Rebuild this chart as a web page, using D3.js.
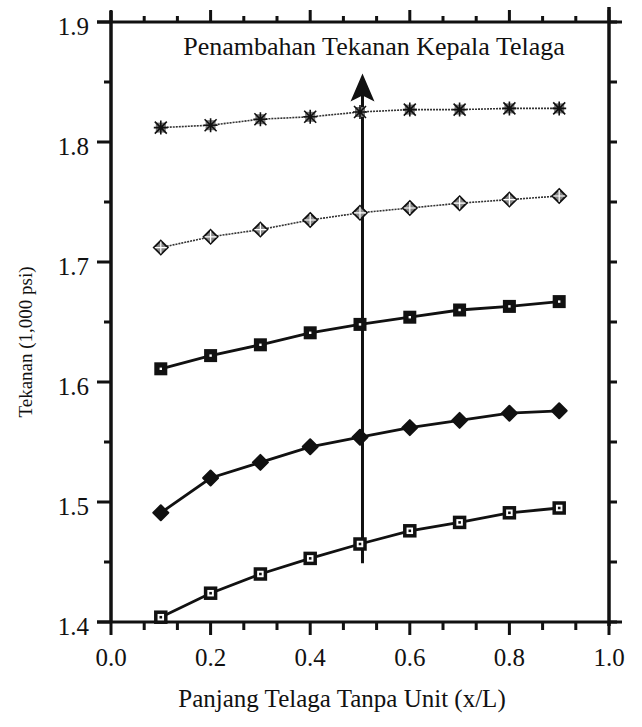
<!DOCTYPE html>
<html>
<head>
    <meta charset="utf-8">
    <script src="https://cdn.jsdelivr.net/npm/d3@7"></script>
</head>
<body style="margin:0">
    <div id="chart"></div>
    <script>
        // x positions (x/L) shared by all curves
        var xVals = [0.1, 0.2, 0.3, 0.4, 0.5, 0.6, 0.7, 0.8, 0.9];

        // pressure (1,000 psi), bottom curve first
        var curve1 = [1.404, 1.424, 1.440, 1.453, 1.465, 1.476, 1.483, 1.491, 1.495];
        var curve2 = [1.491, 1.520, 1.533, 1.546, 1.554, 1.562, 1.568, 1.574, 1.576];
        var curve3 = [1.611, 1.622, 1.631, 1.641, 1.648, 1.654, 1.660, 1.663, 1.667];
        var curve4 = [1.712, 1.721, 1.727, 1.735, 1.741, 1.745, 1.749, 1.752, 1.755];
        var curve5 = [1.812, 1.814, 1.819, 1.821, 1.825, 1.827, 1.827, 1.828, 1.828];

        var xTickLabels = ["0.0", "0.2", "0.4", "0.6", "0.8", "1.0"];
        var yTickLabels = ["1.4", "1.5", "1.6", "1.7", "1.8", "1.9"];

        var titleText = "Penambahan Tekanan Kepala Telaga";
        var xTitle = "Panjang Telaga Tanpa Unit (x/L)";
        var yTitle = "Tekanan (1,000 psi)";

        var pLeft = 111, pRight = 609, pTop = 22, pBottom = 622;
        var serif = "'Liberation Serif', 'Times New Roman', serif";

        var xs = d3.scaleLinear().domain([0, 1]).range([pLeft, pRight]);
        var ys = d3.scaleLinear().domain([1.4, 1.9]).range([pBottom, pTop]);

        var svg = d3.select("#chart").append("svg")
            .attr("width", 642).attr("height", 727).style("display", "block");

        var xMajor = xTickLabels.map(Number);
        var xMinor = d3.range(0, 16).map(function(i) { return i / 15; });
        var yMajor = yTickLabels.map(Number);
        var yMinor = d3.range(0, 11).map(function(i) { return 1.4 + i * 0.05; });

        // frame
        var frame = svg.append("g").attr("stroke", "#111");
        frame.append("line").attr("x1", pLeft).attr("x2", pLeft).attr("y1", pTop - 11).attr("y2", pBottom + 1).attr("stroke-width", 3.5);
        frame.append("line").attr("x1", pRight).attr("x2", pRight).attr("y1", pTop - 15).attr("y2", pBottom + 4).attr("stroke-width", 3.5);
        frame.append("line").attr("x1", pLeft - 14).attr("x2", pRight + 13).attr("y1", pBottom).attr("y2", pBottom).attr("stroke-width", 3);
        frame.append("line").attr("x1", pLeft - 14).attr("x2", pRight + 13).attr("y1", pTop).attr("y2", pTop).attr("stroke-width", 3);

        // tick marks: one path built from the scales
        var tp = d3.path();
        xMinor.forEach(function(v) {
            tp.moveTo(xs(v), pBottom); tp.lineTo(xs(v), pBottom + 8);
            tp.moveTo(xs(v), pTop); tp.lineTo(xs(v), pTop - 6);
        });
        xMajor.forEach(function(v) {
            tp.moveTo(xs(v), pBottom); tp.lineTo(xs(v), pBottom + 13);
            tp.moveTo(xs(v), pTop); tp.lineTo(xs(v), pTop - 12);
        });
        yMinor.forEach(function(v) {
            tp.moveTo(pLeft, ys(v)); tp.lineTo(pLeft - 7, ys(v));
            tp.moveTo(pRight, ys(v)); tp.lineTo(pRight + 8, ys(v));
        });
        yMajor.forEach(function(v) {
            tp.moveTo(pLeft, ys(v)); tp.lineTo(pLeft - 14, ys(v));
        });
        svg.append("path").attr("d", tp.toString()).attr("fill", "none")
            .attr("stroke", "#111").attr("stroke-width", 3);

        // tick labels
        xMajor.forEach(function(v, i) {
            svg.append("text").attr("x", xs(v)).attr("y", pBottom + 44).attr("text-anchor", "middle")
                .style("font-family", serif).style("font-size", "25px").attr("fill", "#111").text(xTickLabels[i]);
        });
        yMajor.forEach(function(v, i) {
            svg.append("text").attr("x", pLeft - 22).attr("y", ys(v) + 13).attr("text-anchor", "end")
                .style("font-family", serif).style("font-size", "25px").attr("fill", "#111").text(yTickLabels[i]);
        });

        // axis titles
        svg.append("text").attr("x", 342).attr("y", 707).attr("text-anchor", "middle")
            .style("font-family", serif).style("font-size", "25px").attr("fill", "#111").text(xTitle);
        svg.append("text").attr("transform", "translate(32,342) rotate(-90)").attr("text-anchor", "middle")
            .style("font-family", serif).style("font-size", "19px").attr("fill", "#111").text(yTitle);

        // arrow
        var ax = xs(0.505);
        var tipY = ys(1.857);
        svg.append("line").attr("x1", ax).attr("x2", ax).attr("y1", ys(1.449)).attr("y2", tipY + 20)
            .attr("stroke", "#111").attr("stroke-width", 3);
        svg.append("path")
            .attr("d", "M" + ax + "," + tipY + "L" + (ax - 12) + "," + (tipY + 28) +
                "L" + ax + "," + (tipY + 22) + "L" + (ax + 12) + "," + (tipY + 28) + "Z")
            .attr("fill", "#111");

        svg.append("text").attr("x", 374).attr("y", 55).attr("text-anchor", "middle")
            .style("font-family", serif).style("font-size", "26px").attr("fill", "#111").text(titleText);

        var lineGen = d3.line()
            .x(function(d, i) { return xs(xVals[i]); })
            .y(function(d) { return ys(d); });

        function pts(arr) {
            return arr.map(function(v, i) { return { x: xs(xVals[i]), y: ys(v) }; });
        }

        // light dotted curves
        [curve5, curve4].forEach(function(c) {
            svg.append("path").datum(c).attr("d", lineGen).attr("fill", "none")
                .attr("stroke", "#333").attr("stroke-width", 1.6).attr("stroke-dasharray", "2,1");
        });
        // heavy curves
        [curve3, curve2, curve1].forEach(function(c) {
            svg.append("path").datum(c).attr("d", lineGen).attr("fill", "none")
                .attr("stroke", "#111").attr("stroke-width", 2.8);
        });

        // top curve: hatched blobs
        var g5 = svg.append("g");
        pts(curve5).forEach(function(p) {
            g5.append("rect").attr("x", p.x - 5).attr("y", p.y - 5).attr("width", 10).attr("height", 10)
                .attr("fill", "#777");
            g5.append("path").attr("d", "M" + (p.x - 6) + "," + (p.y - 6) + "L" + (p.x + 6) + "," + (p.y + 6) +
                "M" + (p.x + 6) + "," + (p.y - 6) + "L" + (p.x - 6) + "," + (p.y + 6) +
                "M" + (p.x - 7) + "," + p.y + "L" + (p.x + 7) + "," + p.y +
                "M" + p.x + "," + (p.y - 7) + "L" + p.x + "," + (p.y + 7))
                .attr("stroke", "#111").attr("stroke-width", 1.6);
        });

        // second curve: open hatched diamonds
        var g4 = svg.append("g");
        pts(curve4).forEach(function(p) {
            g4.append("path").attr("d", "M" + p.x + "," + (p.y - 7) + "L" + (p.x + 7) + "," + p.y +
                "L" + p.x + "," + (p.y + 7) + "L" + (p.x - 7) + "," + p.y + "Z")
                .attr("fill", "#888").attr("stroke", "#111").attr("stroke-width", 1.8);
            g4.append("path").attr("d", "M" + (p.x - 6) + "," + p.y + "L" + (p.x + 6) + "," + p.y +
                "M" + p.x + "," + (p.y - 6) + "L" + p.x + "," + (p.y + 6))
                .attr("stroke", "#fff").attr("stroke-width", 1.2);
        });

        // third curve: solid squares with white dot
        var g3 = svg.append("g");
        pts(curve3).forEach(function(p) {
            g3.append("rect").attr("x", p.x - 6.5).attr("y", p.y - 6.5).attr("width", 13).attr("height", 13).attr("fill", "#111");
            g3.append("rect").attr("x", p.x - 1.2).attr("y", p.y - 1.2).attr("width", 2.4).attr("height", 2.4).attr("fill", "#fff");
        });

        // fourth curve: filled diamonds
        var g2 = svg.append("g");
        pts(curve2).forEach(function(p) {
            g2.append("path").attr("d", "M" + p.x + "," + (p.y - 7.5) + "L" + (p.x + 7.5) + "," + p.y +
                "L" + p.x + "," + (p.y + 7.5) + "L" + (p.x - 7.5) + "," + p.y + "Z")
                .attr("fill", "#111").attr("stroke", "#111").attr("stroke-width", 2).attr("stroke-linejoin", "round");
        });

        // bottom curve: open squares with heavy border
        var g1 = svg.append("g");
        pts(curve1).forEach(function(p) {
            g1.append("rect").attr("x", p.x - 5).attr("y", p.y - 5).attr("width", 10).attr("height", 10)
                .attr("fill", "#fff").attr("stroke", "#111").attr("stroke-width", 3.5);
            g1.append("rect").attr("x", p.x - 1.3).attr("y", p.y - 1.3).attr("width", 2.6).attr("height", 2.6).attr("fill", "#111");
        });
    </script>
</body>
</html>
